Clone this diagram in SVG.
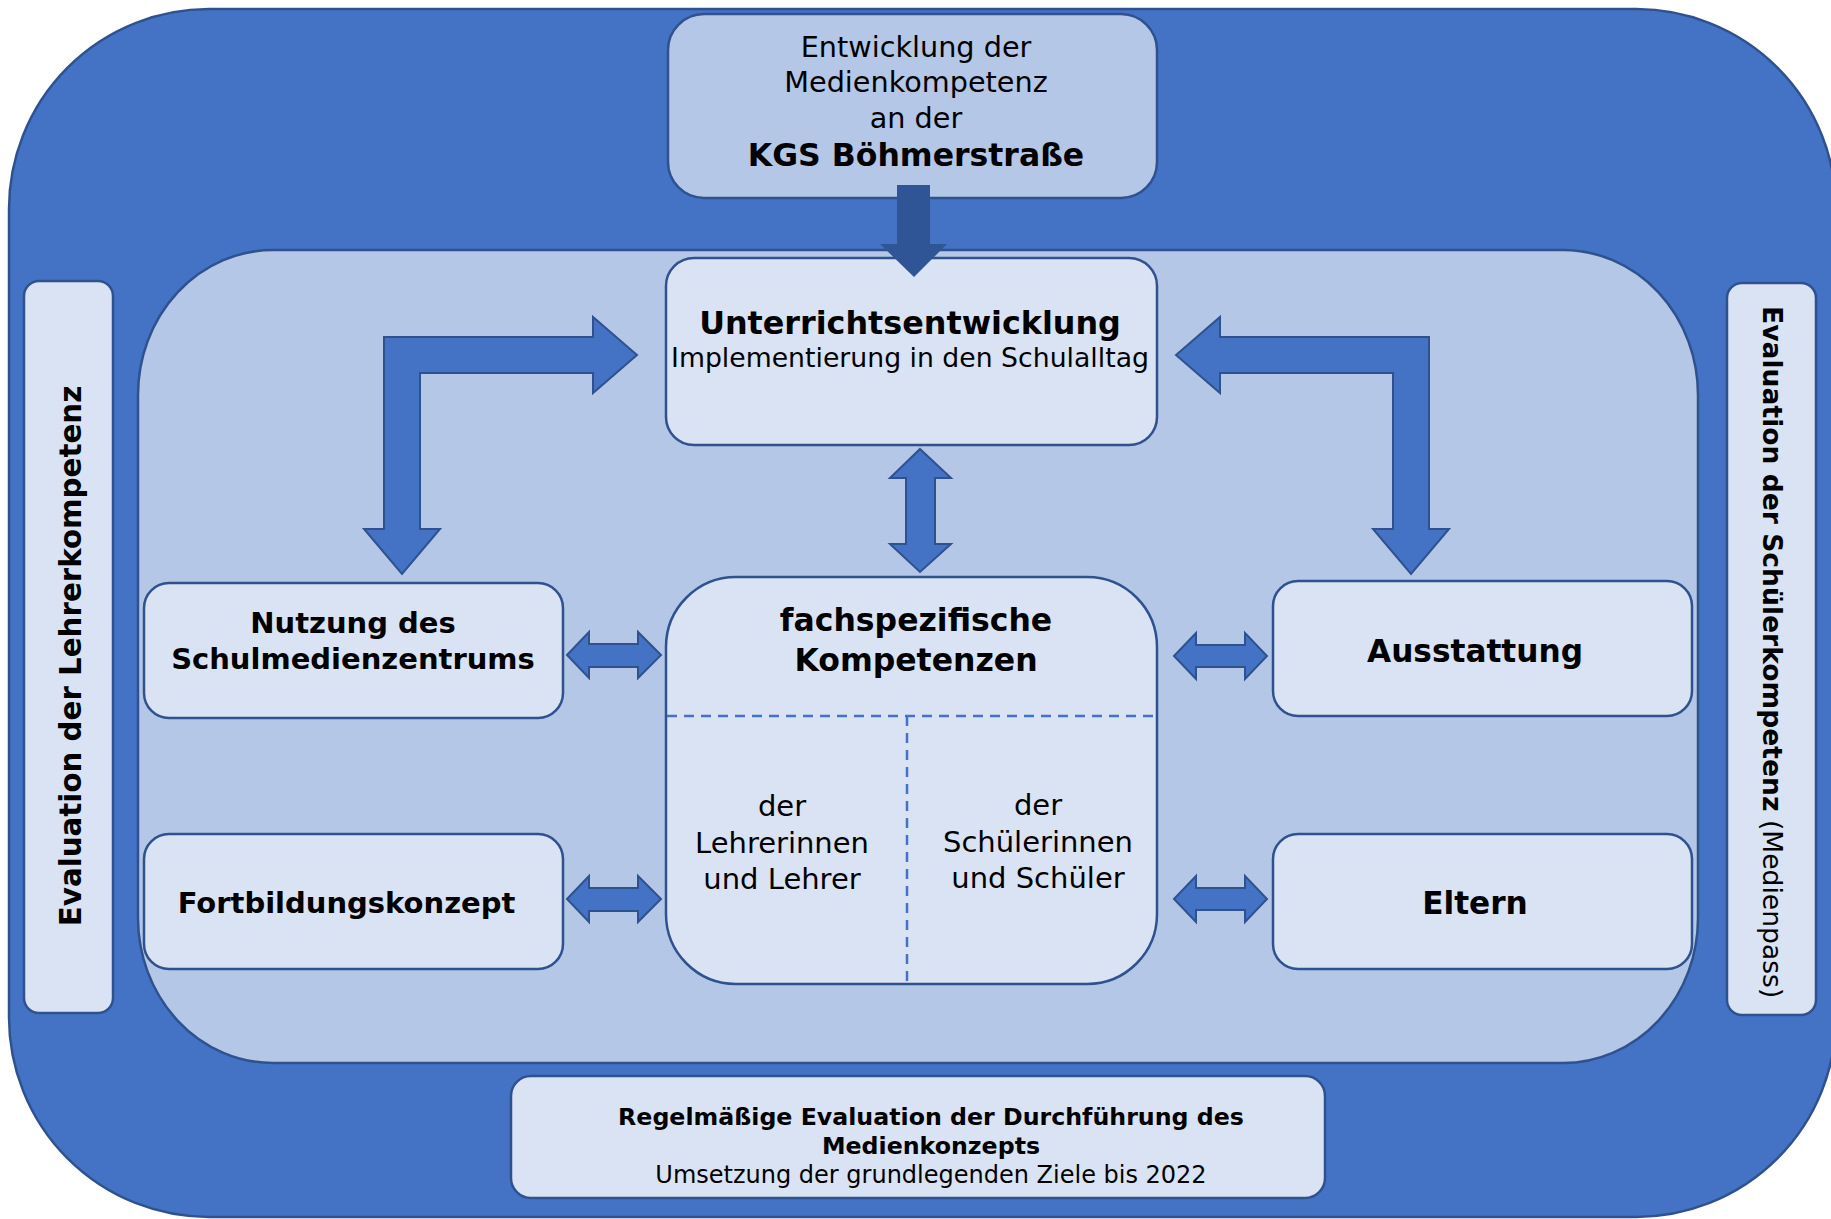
<svg xmlns="http://www.w3.org/2000/svg" width="1831" height="1219" viewBox="0 0 1831 1219">
<defs>
<style>
.outer{fill:#4472C4;stroke:#2F528F;stroke-width:2.5}
.region{fill:#B4C7E7;stroke:#2F528F;stroke-width:2.5}
.box{fill:#DAE3F3;stroke:#2F528F;stroke-width:2.5}
.arrow{fill:#4472C4;stroke:#2F528F;stroke-width:2;stroke-linejoin:miter}
.dark{fill:#2F5597;stroke:none}
.dash{stroke:#4472C4;stroke-width:2.5;stroke-dasharray:10 7;fill:none}
text{font-family:"DejaVu Sans",Verdana,sans-serif;fill:#000;text-anchor:middle}
.b{font-weight:bold}
</style>
</defs>
<rect class="outer" x="9" y="9" width="1827" height="1208" rx="200" ry="200"/>
<rect class="region" x="138" y="250" width="1560" height="813" rx="135" ry="145"/>

<g id="top-box">
<rect class="region" x="668" y="14" width="489" height="184" rx="36"/>
<text x="916" y="57" font-size="28.7">Entwicklung der</text>
<text x="916" y="92" font-size="28.7">Medienkompetenz</text>
<text x="916" y="128" font-size="28.7">an der</text>
<text class="b" x="916" y="166" font-size="31.5">KGS Böhmerstraße</text>
</g>

<g id="eval-lehrer">
<rect class="box" x="24" y="281" width="89" height="732" rx="15"/>
<text class="b" transform="translate(81,656) rotate(-90)" font-size="29.3">Evaluation der Lehrerkompetenz</text>
</g>

<g id="eval-schueler">
<rect class="box" x="1727" y="283" width="89" height="732" rx="15"/>
<text transform="translate(1763,306) rotate(90)" font-size="26.6" style="text-anchor:start"><tspan class="b">Evaluation der Schülerkompetenz</tspan> (Medienpass)</text>
</g>

<g id="unterricht">
<rect class="box" x="666" y="258" width="491" height="187" rx="28"/>
<text class="b" x="910" y="334" font-size="31.8">Unterrichtsentwicklung</text>
<text x="910" y="367" font-size="26.7">Implementierung in den Schulalltag</text>
</g>

<g id="fach">
<rect class="box" x="666" y="577" width="491" height="407" rx="70"/>
<line class="dash" x1="667" y1="716" x2="1156" y2="716"/>
<line class="dash" x1="907" y1="716" x2="907" y2="983"/>
<text class="b" x="916" y="631" font-size="31.5">fachspezifische</text>
<text class="b" x="916" y="671" font-size="31.5">Kompetenzen</text>
<text x="782" y="816" font-size="29">der</text>
<text x="782" y="853" font-size="29">Lehrerinnen</text>
<text x="782" y="889" font-size="29">und Lehrer</text>
<text x="1038" y="815" font-size="29">der</text>
<text x="1038" y="852" font-size="29">Schülerinnen</text>
<text x="1038" y="888" font-size="29">und Schüler</text>
</g>

<g id="nutzung">
<rect class="box" x="144" y="583" width="419" height="135" rx="25"/>
<text class="b" x="353" y="633" font-size="29">Nutzung des</text>
<text class="b" x="353" y="669" font-size="29">Schulmedienzentrums</text>
</g>

<g id="fortbildung">
<rect class="box" x="144" y="834" width="419" height="135" rx="25"/>
<text class="b" x="346.5" y="913" font-size="29">Fortbildungskonzept</text>
</g>

<g id="ausstattung">
<rect class="box" x="1273" y="581" width="419" height="135" rx="25"/>
<text class="b" x="1475" y="662" font-size="31.2">Ausstattung</text>
</g>

<g id="eltern">
<rect class="box" x="1273" y="834" width="419" height="135" rx="25"/>
<text class="b" x="1475" y="914" font-size="31.2">Eltern</text>
</g>

<g id="evaluation-bottom">
<rect class="box" x="511" y="1076" width="814" height="122" rx="20"/>
<text class="b" x="931" y="1125" font-size="23.7">Regelmäßige Evaluation der Durchführung des</text>
<text class="b" x="931" y="1154" font-size="23.7">Medienkonzepts</text>
<text x="931" y="1183" font-size="24">Umsetzung der grundlegenden Ziele bis 2022</text>
</g>

<g id="connectors">
<polygon class="dark" points="897,185 930,185 930,244 947,244 914,277 880,244 897,244"/>
<polygon class="arrow" points="637,355 593,317 593,337 384,337 384,529 364,529 402,574 440,529 420,529 420,373 593,373 593,393"/>
<polygon class="arrow" points="1176,355 1220,317 1220,337 1429,337 1429,529 1449,529 1411,574 1373,529 1393,529 1393,373 1220,373 1220,393"/>
<polygon class="arrow" points="920,449 951,478 935,478 935,544 951,544 920,572 890,544 906,544 906,478 890,478"/>
<polygon class="arrow" points="567,655 589,632 589,644 638,644 638,632 661,655 638,678 638,667 589,667 589,678"/>
<polygon class="arrow" points="567,899 589,876 589,888 638,888 638,876 661,899 638,922 638,911 589,911 589,922"/>
<polygon class="arrow" points="1174,656 1196,633 1196,645 1245,645 1245,633 1267,656 1245,679 1245,667 1196,667 1196,679"/>
<polygon class="arrow" points="1174,899 1196,876 1196,888 1245,888 1245,876 1267,899 1245,922 1245,910 1196,910 1196,922"/>
</g>
</svg>
